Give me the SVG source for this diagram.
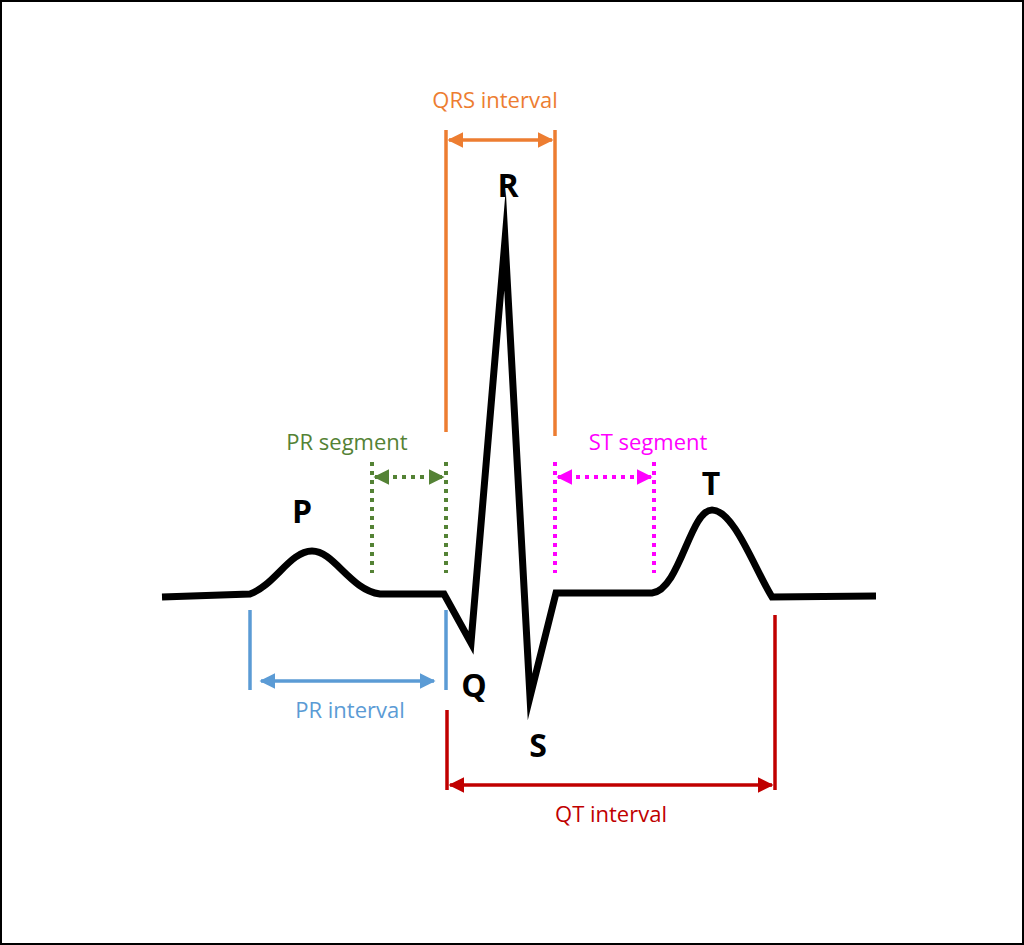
<svg xmlns="http://www.w3.org/2000/svg" width="1024" height="945" viewBox="0 0 1024 945">
<defs>
<style>
.lbl{font-family:"Open Sans","Liberation Sans",sans-serif;font-size:22px;text-anchor:middle}
.wl{font-family:"Open Sans","Liberation Sans",sans-serif;font-size:32px;font-weight:bold;text-anchor:middle;fill:#000}
.solid{stroke-width:3.5;fill:none}
.dot{stroke-width:4;fill:none;stroke-dasharray:4 5}
</style>
<marker id="ao" viewBox="0 0 10 10" refX="9" refY="5" markerWidth="4.5" markerHeight="4.5" orient="auto-start-reverse"><path d="M0,0L10,5L0,10z" fill="#ED7D31"/></marker>
<marker id="ag" viewBox="0 0 10 10" refX="9" refY="5" markerWidth="4" markerHeight="4" orient="auto-start-reverse"><path d="M0,0L10,5L0,10z" fill="#548235"/></marker>
<marker id="am" viewBox="0 0 10 10" refX="9" refY="5" markerWidth="4" markerHeight="4" orient="auto-start-reverse"><path d="M0,0L10,5L0,10z" fill="#FF00FF"/></marker>
<marker id="ab" viewBox="0 0 10 10" refX="9" refY="5" markerWidth="4.5" markerHeight="4.5" orient="auto-start-reverse"><path d="M0,0L10,5L0,10z" fill="#5B9BD5"/></marker>
<marker id="ar" viewBox="0 0 10 10" refX="9" refY="5" markerWidth="4.5" markerHeight="4.5" orient="auto-start-reverse"><path d="M0,0L10,5L0,10z" fill="#C00000"/></marker>
</defs>
<rect x="0" y="0" width="1024" height="945" fill="#fff"/>
<rect x="1" y="1" width="1022" height="943" fill="none" stroke="#000" stroke-width="2"/>
<g id="wave">
<path d="M162,597 L250,594 C275,585 290,551 312,551 C334,551 350,590 380,594 L444,594 L471,643 L505,240 L530,697 L556,593 L652,593 C680,590 690,510 712,510 C734,510 755,570 772,597 L876,596" fill="none" stroke="#000" stroke-width="7" stroke-linejoin="miter" stroke-miterlimit="20"/>
</g>
<g id="connectors">
<g stroke="#ED7D31">
<line class="solid" x1="446" y1="130" x2="446" y2="432"/>
<line class="solid" x1="555" y1="130" x2="555" y2="436"/>
<line class="solid" x1="449" y1="140" x2="552" y2="140" marker-start="url(#ao)" marker-end="url(#ao)"/>
</g>
<g stroke="#548235">
<line class="dot" x1="372" y1="462" x2="372" y2="573"/>
<line class="dot" x1="446" y1="462" x2="446" y2="573"/>
<line class="dot" x1="375" y1="477" x2="443" y2="477" marker-start="url(#ag)" marker-end="url(#ag)"/>
</g>
<g stroke="#FF00FF">
<line class="dot" x1="555" y1="462" x2="555" y2="573"/>
<line class="dot" x1="654" y1="462" x2="654" y2="573"/>
<line class="dot" x1="558" y1="477" x2="651" y2="477" marker-start="url(#am)" marker-end="url(#am)"/>
</g>
<g stroke="#5B9BD5">
<line class="solid" x1="250" y1="610" x2="250" y2="690"/>
<line class="solid" x1="446" y1="610" x2="446" y2="690"/>
<line class="solid" x1="261" y1="681" x2="434" y2="681" marker-start="url(#ab)" marker-end="url(#ab)"/>
</g>
<g stroke="#C00000">
<line class="solid" x1="447" y1="710" x2="447" y2="790"/>
<line class="solid" x1="775" y1="615" x2="775" y2="790"/>
<line class="solid" x1="450" y1="785" x2="772" y2="785" marker-start="url(#ar)" marker-end="url(#ar)"/>
</g>
</g>
<g id="labels">
<text class="lbl" x="495" y="108" fill="#ED7D31">QRS interval</text>
<text class="lbl" x="347" y="450" fill="#548235">PR segment</text>
<text class="lbl" x="648" y="450" fill="#FF00FF">ST segment</text>
<text class="lbl" x="350" y="718" fill="#5B9BD5">PR interval</text>
<text class="lbl" x="611" y="822" fill="#C00000">QT interval</text>
<text class="wl" x="302" y="523">P</text>
<text class="wl" x="474" y="697">Q</text>
<text class="wl" x="508" y="197">R</text>
<text class="wl" x="538" y="757">S</text>
<text class="wl" x="711" y="495">T</text>
</g>
</svg>
